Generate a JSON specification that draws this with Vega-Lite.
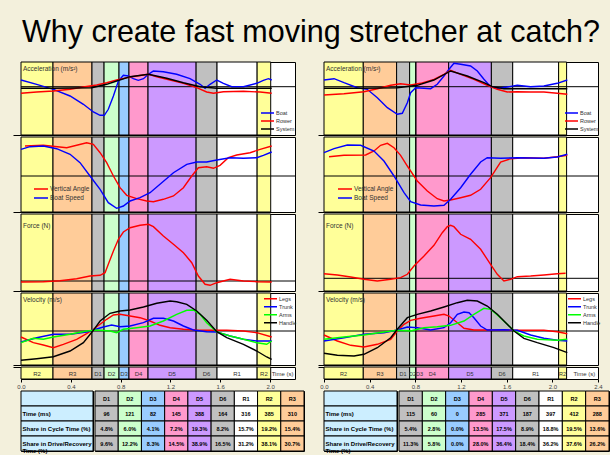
{
"$schema":"https://vega.github.io/schema/vega-lite/v6.json",
"background":"#f3f0dc",
"padding":{"left":12,"top":17,"right":0,"bottom":0},
"title":{"text":"Why create fast moving stretcher at catch?","anchor":"start","fontSize":30.5,"fontWeight":"normal","font":"Liberation Sans","color":"#000","dx":10,"offset":12},
"config":{"font":"Liberation Sans","view":{"stroke":"#000","strokeWidth":1,"fill":"#ffffff"},"axis":{"labelFont":"Liberation Sans"},"legend":{"labelFont":"Liberation Sans"},"text":{"font":"Liberation Sans"}},
"datasets":{
"bands":[
{"p":"L","ph":"R2","t0":0,"t1":0.257},{"p":"L","ph":"R3","t0":0.257,"t1":0.57},{"p":"L","ph":"D1","t0":0.57,"t1":0.667},{"p":"L","ph":"D2","t0":0.667,"t1":0.787},{"p":"L","ph":"D3","t0":0.787,"t1":0.867},{"p":"L","ph":"D4","t0":0.867,"t1":1.02},{"p":"L","ph":"D5","t0":1.02,"t1":1.406},{"p":"L","ph":"D6","t0":1.406,"t1":1.574},{"p":"L","ph":"R1","t0":1.574,"t1":1.896},{"p":"L","ph":"R2","t0":1.896,"t1":2.005},
{"p":"R","ph":"R2","t0":0,"t1":0.344},{"p":"R","ph":"R3","t0":0.344,"t1":0.636},{"p":"R","ph":"D1","t0":0.636,"t1":0.75},{"p":"R","ph":"D2","t0":0.75,"t1":0.806},{"p":"R","ph":"D3","t0":0.806,"t1":0.806},{"p":"R","ph":"D4","t0":0.806,"t1":1.092},{"p":"R","ph":"D5","t0":1.092,"t1":1.466},{"p":"R","ph":"D6","t0":1.466,"t1":1.653},{"p":"R","ph":"R1","t0":1.653,"t1":2.055},{"p":"R","ph":"R2","t0":2.055,"t1":2.125}
],
"grid":[{"p":"L","c":"acc","v":48.3},{"p":"L","c":"ang","v":36},{"p":"L","c":"frc","v":10},{"p":"L","c":"vel","v":34},{"p":"R","c":"acc","v":48.3},{"p":"R","c":"ang","v":36},{"p":"R","c":"frc","v":12.7},{"p":"R","c":"vel","v":34}],
"tlab":[{"r":"h","txt":""},{"r":"time","txt":"Time (ms)"},{"r":"cyc","txt":"Share in Cycle Time (%)"},{"r":"dr","txt":"Share in Drive/Recovery\nTime (%)"}],
"tbl":[
{"p":"L","r":"h","col":"D1","txt":"D1"},{"p":"L","r":"h","col":"D2","txt":"D2"},{"p":"L","r":"h","col":"D3","txt":"D3"},{"p":"L","r":"h","col":"D4","txt":"D4"},{"p":"L","r":"h","col":"D5","txt":"D5"},{"p":"L","r":"h","col":"D6","txt":"D6"},{"p":"L","r":"h","col":"R1","txt":"R1"},{"p":"L","r":"h","col":"R2","txt":"R2"},{"p":"L","r":"h","col":"R3","txt":"R3"},
{"p":"L","r":"time","col":"D1","txt":"96"},{"p":"L","r":"time","col":"D2","txt":"121"},{"p":"L","r":"time","col":"D3","txt":"82"},{"p":"L","r":"time","col":"D4","txt":"145"},{"p":"L","r":"time","col":"D5","txt":"388"},{"p":"L","r":"time","col":"D6","txt":"164"},{"p":"L","r":"time","col":"R1","txt":"316"},{"p":"L","r":"time","col":"R2","txt":"385"},{"p":"L","r":"time","col":"R3","txt":"310"},
{"p":"L","r":"cyc","col":"D1","txt":"4.8%"},{"p":"L","r":"cyc","col":"D2","txt":"6.0%"},{"p":"L","r":"cyc","col":"D3","txt":"4.1%"},{"p":"L","r":"cyc","col":"D4","txt":"7.2%"},{"p":"L","r":"cyc","col":"D5","txt":"19.3%"},{"p":"L","r":"cyc","col":"D6","txt":"8.2%"},{"p":"L","r":"cyc","col":"R1","txt":"15.7%"},{"p":"L","r":"cyc","col":"R2","txt":"19.2%"},{"p":"L","r":"cyc","col":"R3","txt":"15.4%"},
{"p":"L","r":"dr","col":"D1","txt":"9.6%"},{"p":"L","r":"dr","col":"D2","txt":"12.2%"},{"p":"L","r":"dr","col":"D3","txt":"8.3%"},{"p":"L","r":"dr","col":"D4","txt":"14.5%"},{"p":"L","r":"dr","col":"D5","txt":"38.9%"},{"p":"L","r":"dr","col":"D6","txt":"16.5%"},{"p":"L","r":"dr","col":"R1","txt":"31.2%"},{"p":"L","r":"dr","col":"R2","txt":"38.1%"},{"p":"L","r":"dr","col":"R3","txt":"30.7%"},
{"p":"R","r":"h","col":"D1","txt":"D1"},{"p":"R","r":"h","col":"D2","txt":"D2"},{"p":"R","r":"h","col":"D3","txt":"D3"},{"p":"R","r":"h","col":"D4","txt":"D4"},{"p":"R","r":"h","col":"D5","txt":"D5"},{"p":"R","r":"h","col":"D6","txt":"D6"},{"p":"R","r":"h","col":"R1","txt":"R1"},{"p":"R","r":"h","col":"R2","txt":"R2"},{"p":"R","r":"h","col":"R3","txt":"R3"},
{"p":"R","r":"time","col":"D1","txt":"115"},{"p":"R","r":"time","col":"D2","txt":"60"},{"p":"R","r":"time","col":"D3","txt":"0"},{"p":"R","r":"time","col":"D4","txt":"285"},{"p":"R","r":"time","col":"D5","txt":"371"},{"p":"R","r":"time","col":"D6","txt":"187"},{"p":"R","r":"time","col":"R1","txt":"397"},{"p":"R","r":"time","col":"R2","txt":"412"},{"p":"R","r":"time","col":"R3","txt":"288"},
{"p":"R","r":"cyc","col":"D1","txt":"5.4%"},{"p":"R","r":"cyc","col":"D2","txt":"2.8%"},{"p":"R","r":"cyc","col":"D3","txt":"0.0%"},{"p":"R","r":"cyc","col":"D4","txt":"13.5%"},{"p":"R","r":"cyc","col":"D5","txt":"17.5%"},{"p":"R","r":"cyc","col":"D6","txt":"8.9%"},{"p":"R","r":"cyc","col":"R1","txt":"18.8%"},{"p":"R","r":"cyc","col":"R2","txt":"19.5%"},{"p":"R","r":"cyc","col":"R3","txt":"13.6%"},
{"p":"R","r":"dr","col":"D1","txt":"11.3%"},{"p":"R","r":"dr","col":"D2","txt":"5.8%"},{"p":"R","r":"dr","col":"D3","txt":"0.0%"},{"p":"R","r":"dr","col":"D4","txt":"28.0%"},{"p":"R","r":"dr","col":"D5","txt":"36.4%"},{"p":"R","r":"dr","col":"D6","txt":"18.4%"},{"p":"R","r":"dr","col":"R1","txt":"36.2%"},{"p":"R","r":"dr","col":"R2","txt":"37.6%"},{"p":"R","r":"dr","col":"R3","txt":"26.2%"}
],
"curves":[
{"p":"L","c":"acc","s":"Boat","t":0,"v":55},{"p":"L","c":"acc","s":"Boat","t":0.126,"v":50.7},{"p":"L","c":"acc","s":"Boat","t":0.26,"v":45.7},{"p":"L","c":"acc","s":"Boat","t":0.394,"v":39},{"p":"L","c":"acc","s":"Boat","t":0.501,"v":30.7},{"p":"L","c":"acc","s":"Boat","t":0.581,"v":23},{"p":"L","c":"acc","s":"Boat","t":0.635,"v":19.7},{"p":"L","c":"acc","s":"Boat","t":0.669,"v":19.7},{"p":"L","c":"acc","s":"Boat","t":0.701,"v":25.7},{"p":"L","c":"acc","s":"Boat","t":0.742,"v":39},{"p":"L","c":"acc","s":"Boat","t":0.782,"v":54},{"p":"L","c":"acc","s":"Boat","t":0.822,"v":59.7},{"p":"L","c":"acc","s":"Boat","t":0.862,"v":59},{"p":"L","c":"acc","s":"Boat","t":0.902,"v":56.3},{"p":"L","c":"acc","s":"Boat","t":0.942,"v":54.7},{"p":"L","c":"acc","s":"Boat","t":0.983,"v":56.3},{"p":"L","c":"acc","s":"Boat","t":1.023,"v":60.7},{"p":"L","c":"acc","s":"Boat","t":1.063,"v":64},{"p":"L","c":"acc","s":"Boat","t":1.143,"v":63.3},{"p":"L","c":"acc","s":"Boat","t":1.25,"v":60.7},{"p":"L","c":"acc","s":"Boat","t":1.357,"v":56.3},{"p":"L","c":"acc","s":"Boat","t":1.438,"v":50.7},{"p":"L","c":"acc","s":"Boat","t":1.478,"v":46.7},{"p":"L","c":"acc","s":"Boat","t":1.518,"v":50.7},{"p":"L","c":"acc","s":"Boat","t":1.572,"v":55},{"p":"L","c":"acc","s":"Boat","t":1.625,"v":51.7},{"p":"L","c":"acc","s":"Boat","t":1.692,"v":48.3},{"p":"L","c":"acc","s":"Boat","t":1.786,"v":48.3},{"p":"L","c":"acc","s":"Boat","t":1.893,"v":51.7},{"p":"L","c":"acc","s":"Boat","t":1.946,"v":54.7},{"p":"L","c":"acc","s":"Boat","t":1.987,"v":56.3},{"p":"L","c":"acc","s":"Boat","t":2.013,"v":55},
{"p":"L","c":"acc","s":"Rower","t":0,"v":41.7},{"p":"L","c":"acc","s":"Rower","t":0.126,"v":43},{"p":"L","c":"acc","s":"Rower","t":0.26,"v":44},{"p":"L","c":"acc","s":"Rower","t":0.394,"v":45.7},{"p":"L","c":"acc","s":"Rower","t":0.501,"v":48},{"p":"L","c":"acc","s":"Rower","t":0.608,"v":50},{"p":"L","c":"acc","s":"Rower","t":0.688,"v":52.3},{"p":"L","c":"acc","s":"Rower","t":0.768,"v":55},{"p":"L","c":"acc","s":"Rower","t":0.876,"v":58},{"p":"L","c":"acc","s":"Rower","t":0.983,"v":60},{"p":"L","c":"acc","s":"Rower","t":1.023,"v":60.7},{"p":"L","c":"acc","s":"Rower","t":1.09,"v":58.3},{"p":"L","c":"acc","s":"Rower","t":1.197,"v":55},{"p":"L","c":"acc","s":"Rower","t":1.304,"v":51.7},{"p":"L","c":"acc","s":"Rower","t":1.411,"v":47.3},{"p":"L","c":"acc","s":"Rower","t":1.491,"v":43},{"p":"L","c":"acc","s":"Rower","t":1.545,"v":41.7},{"p":"L","c":"acc","s":"Rower","t":1.625,"v":43.3},{"p":"L","c":"acc","s":"Rower","t":1.786,"v":43.7},{"p":"L","c":"acc","s":"Rower","t":1.92,"v":43},{"p":"L","c":"acc","s":"Rower","t":2.013,"v":41.7},
{"p":"L","c":"acc","s":"System","t":0,"v":46.7},{"p":"L","c":"acc","s":"System","t":0.26,"v":46.7},{"p":"L","c":"acc","s":"System","t":0.568,"v":47.3},{"p":"L","c":"acc","s":"System","t":0.688,"v":50.7},{"p":"L","c":"acc","s":"System","t":0.768,"v":54},{"p":"L","c":"acc","s":"System","t":0.876,"v":58.3},{"p":"L","c":"acc","s":"System","t":1.023,"v":60.7},{"p":"L","c":"acc","s":"System","t":1.17,"v":56.7},{"p":"L","c":"acc","s":"System","t":1.304,"v":52.3},{"p":"L","c":"acc","s":"System","t":1.438,"v":48.3},{"p":"L","c":"acc","s":"System","t":1.572,"v":46.7},{"p":"L","c":"acc","s":"System","t":2.013,"v":46.7},
{"p":"L","c":"ang","s":"Vertical Angle","t":0.032,"v":66},{"p":"L","c":"ang","s":"Vertical Angle","t":0.179,"v":66.7},{"p":"L","c":"ang","s":"Vertical Angle","t":0.367,"v":64.3},{"p":"L","c":"ang","s":"Vertical Angle","t":0.447,"v":66.7},{"p":"L","c":"ang","s":"Vertical Angle","t":0.527,"v":69.3},{"p":"L","c":"ang","s":"Vertical Angle","t":0.581,"v":67.7},{"p":"L","c":"ang","s":"Vertical Angle","t":0.635,"v":59.3},{"p":"L","c":"ang","s":"Vertical Angle","t":0.688,"v":49.3},{"p":"L","c":"ang","s":"Vertical Angle","t":0.742,"v":36},{"p":"L","c":"ang","s":"Vertical Angle","t":0.795,"v":24.3},{"p":"L","c":"ang","s":"Vertical Angle","t":0.849,"v":16.7},{"p":"L","c":"ang","s":"Vertical Angle","t":0.929,"v":13.3},{"p":"L","c":"ang","s":"Vertical Angle","t":1.009,"v":11},{"p":"L","c":"ang","s":"Vertical Angle","t":1.063,"v":10.3},{"p":"L","c":"ang","s":"Vertical Angle","t":1.143,"v":12.7},{"p":"L","c":"ang","s":"Vertical Angle","t":1.224,"v":16},{"p":"L","c":"ang","s":"Vertical Angle","t":1.304,"v":24.3},{"p":"L","c":"ang","s":"Vertical Angle","t":1.371,"v":36},{"p":"L","c":"ang","s":"Vertical Angle","t":1.424,"v":44.3},{"p":"L","c":"ang","s":"Vertical Angle","t":1.491,"v":45.3},{"p":"L","c":"ang","s":"Vertical Angle","t":1.545,"v":43.7},{"p":"L","c":"ang","s":"Vertical Angle","t":1.598,"v":46.7},{"p":"L","c":"ang","s":"Vertical Angle","t":1.665,"v":54.3},{"p":"L","c":"ang","s":"Vertical Angle","t":1.732,"v":57},{"p":"L","c":"ang","s":"Vertical Angle","t":1.839,"v":59.3},{"p":"L","c":"ang","s":"Vertical Angle","t":1.92,"v":62.7},{"p":"L","c":"ang","s":"Vertical Angle","t":2.013,"v":66},
{"p":"L","c":"ang","s":"Boat Speed","t":0,"v":62.7},{"p":"L","c":"ang","s":"Boat Speed","t":0.072,"v":65.3},{"p":"L","c":"ang","s":"Boat Speed","t":0.179,"v":66},{"p":"L","c":"ang","s":"Boat Speed","t":0.286,"v":63.3},{"p":"L","c":"ang","s":"Boat Speed","t":0.394,"v":57.7},{"p":"L","c":"ang","s":"Boat Speed","t":0.474,"v":49.3},{"p":"L","c":"ang","s":"Boat Speed","t":0.554,"v":36},{"p":"L","c":"ang","s":"Boat Speed","t":0.635,"v":22.7},{"p":"L","c":"ang","s":"Boat Speed","t":0.701,"v":9.3},{"p":"L","c":"ang","s":"Boat Speed","t":0.768,"v":3.7},{"p":"L","c":"ang","s":"Boat Speed","t":0.822,"v":6},{"p":"L","c":"ang","s":"Boat Speed","t":0.876,"v":11},{"p":"L","c":"ang","s":"Boat Speed","t":0.956,"v":14.3},{"p":"L","c":"ang","s":"Boat Speed","t":1.036,"v":19.3},{"p":"L","c":"ang","s":"Boat Speed","t":1.116,"v":27.7},{"p":"L","c":"ang","s":"Boat Speed","t":1.224,"v":39.3},{"p":"L","c":"ang","s":"Boat Speed","t":1.331,"v":47.7},{"p":"L","c":"ang","s":"Boat Speed","t":1.411,"v":50},{"p":"L","c":"ang","s":"Boat Speed","t":1.491,"v":50},{"p":"L","c":"ang","s":"Boat Speed","t":1.572,"v":52},{"p":"L","c":"ang","s":"Boat Speed","t":1.679,"v":54.3},{"p":"L","c":"ang","s":"Boat Speed","t":1.786,"v":53.7},{"p":"L","c":"ang","s":"Boat Speed","t":1.893,"v":54.3},{"p":"L","c":"ang","s":"Boat Speed","t":1.946,"v":56.7},{"p":"L","c":"ang","s":"Boat Speed","t":2.013,"v":60},
{"p":"L","c":"frc","s":"Force","t":0,"v":9},{"p":"L","c":"frc","s":"Force","t":0.179,"v":9.3},{"p":"L","c":"frc","s":"Force","t":0.313,"v":10.3},{"p":"L","c":"frc","s":"Force","t":0.447,"v":12.3},{"p":"L","c":"frc","s":"Force","t":0.554,"v":15},{"p":"L","c":"frc","s":"Force","t":0.635,"v":15.7},{"p":"L","c":"frc","s":"Force","t":0.675,"v":18.3},{"p":"L","c":"frc","s":"Force","t":0.701,"v":26.7},{"p":"L","c":"frc","s":"Force","t":0.742,"v":40},{"p":"L","c":"frc","s":"Force","t":0.782,"v":51.7},{"p":"L","c":"frc","s":"Force","t":0.822,"v":59},{"p":"L","c":"frc","s":"Force","t":0.876,"v":63.3},{"p":"L","c":"frc","s":"Force","t":0.956,"v":65.7},{"p":"L","c":"frc","s":"Force","t":1.023,"v":66.7},{"p":"L","c":"frc","s":"Force","t":1.063,"v":64.3},{"p":"L","c":"frc","s":"Force","t":1.143,"v":55},{"p":"L","c":"frc","s":"Force","t":1.224,"v":46.7},{"p":"L","c":"frc","s":"Force","t":1.304,"v":38.3},{"p":"L","c":"frc","s":"Force","t":1.371,"v":28.3},{"p":"L","c":"frc","s":"Force","t":1.424,"v":15},{"p":"L","c":"frc","s":"Force","t":1.478,"v":6.7},{"p":"L","c":"frc","s":"Force","t":1.518,"v":5.7},{"p":"L","c":"frc","s":"Force","t":1.572,"v":8.3},{"p":"L","c":"frc","s":"Force","t":1.625,"v":10},{"p":"L","c":"frc","s":"Force","t":1.679,"v":11.7},{"p":"L","c":"frc","s":"Force","t":1.786,"v":10},{"p":"L","c":"frc","s":"Force","t":1.893,"v":9.3},{"p":"L","c":"frc","s":"Force","t":2.013,"v":9},
{"p":"L","c":"vel","s":"Legs","t":0,"v":28},{"p":"L","c":"vel","s":"Legs","t":0.099,"v":22.3},{"p":"L","c":"vel","s":"Legs","t":0.179,"v":20},{"p":"L","c":"vel","s":"Legs","t":0.26,"v":17.3},{"p":"L","c":"vel","s":"Legs","t":0.34,"v":20.7},{"p":"L","c":"vel","s":"Legs","t":0.447,"v":25.7},{"p":"L","c":"vel","s":"Legs","t":0.527,"v":31.3},{"p":"L","c":"vel","s":"Legs","t":0.581,"v":35.7},{"p":"L","c":"vel","s":"Legs","t":0.635,"v":40.7},{"p":"L","c":"vel","s":"Legs","t":0.688,"v":45.7},{"p":"L","c":"vel","s":"Legs","t":0.742,"v":50},{"p":"L","c":"vel","s":"Legs","t":0.795,"v":50.7},{"p":"L","c":"vel","s":"Legs","t":0.876,"v":49},{"p":"L","c":"vel","s":"Legs","t":0.956,"v":47.3},{"p":"L","c":"vel","s":"Legs","t":1.036,"v":44},{"p":"L","c":"vel","s":"Legs","t":1.116,"v":39.7},{"p":"L","c":"vel","s":"Legs","t":1.197,"v":37.3},{"p":"L","c":"vel","s":"Legs","t":1.304,"v":35.7},{"p":"L","c":"vel","s":"Legs","t":1.411,"v":35},{"p":"L","c":"vel","s":"Legs","t":1.518,"v":34.7},{"p":"L","c":"vel","s":"Legs","t":1.652,"v":34.7},{"p":"L","c":"vel","s":"Legs","t":1.786,"v":34},{"p":"L","c":"vel","s":"Legs","t":1.893,"v":32.3},{"p":"L","c":"vel","s":"Legs","t":2.013,"v":28},
{"p":"L","c":"vel","s":"Trunk","t":0,"v":23},{"p":"L","c":"vel","s":"Trunk","t":0.126,"v":27.3},{"p":"L","c":"vel","s":"Trunk","t":0.26,"v":30.7},{"p":"L","c":"vel","s":"Trunk","t":0.394,"v":30.7},{"p":"L","c":"vel","s":"Trunk","t":0.527,"v":33},{"p":"L","c":"vel","s":"Trunk","t":0.581,"v":35},{"p":"L","c":"vel","s":"Trunk","t":0.661,"v":38},{"p":"L","c":"vel","s":"Trunk","t":0.728,"v":40},{"p":"L","c":"vel","s":"Trunk","t":0.795,"v":38.3},{"p":"L","c":"vel","s":"Trunk","t":0.876,"v":39},{"p":"L","c":"vel","s":"Trunk","t":0.983,"v":42.3},{"p":"L","c":"vel","s":"Trunk","t":1.063,"v":46.7},{"p":"L","c":"vel","s":"Trunk","t":1.143,"v":46.7},{"p":"L","c":"vel","s":"Trunk","t":1.224,"v":44},{"p":"L","c":"vel","s":"Trunk","t":1.304,"v":39},{"p":"L","c":"vel","s":"Trunk","t":1.384,"v":35},{"p":"L","c":"vel","s":"Trunk","t":1.491,"v":33.3},{"p":"L","c":"vel","s":"Trunk","t":1.572,"v":33},{"p":"L","c":"vel","s":"Trunk","t":1.679,"v":29},{"p":"L","c":"vel","s":"Trunk","t":1.786,"v":25.7},{"p":"L","c":"vel","s":"Trunk","t":1.893,"v":24},{"p":"L","c":"vel","s":"Trunk","t":2.013,"v":24},
{"p":"L","c":"vel","s":"Arms","t":0,"v":22.3},{"p":"L","c":"vel","s":"Arms","t":0.099,"v":26.7},{"p":"L","c":"vel","s":"Arms","t":0.179,"v":25.7},{"p":"L","c":"vel","s":"Arms","t":0.26,"v":28},{"p":"L","c":"vel","s":"Arms","t":0.394,"v":30.7},{"p":"L","c":"vel","s":"Arms","t":0.527,"v":34},{"p":"L","c":"vel","s":"Arms","t":0.608,"v":35},{"p":"L","c":"vel","s":"Arms","t":0.715,"v":34},{"p":"L","c":"vel","s":"Arms","t":0.768,"v":32.3},{"p":"L","c":"vel","s":"Arms","t":0.822,"v":35.7},{"p":"L","c":"vel","s":"Arms","t":0.929,"v":37.3},{"p":"L","c":"vel","s":"Arms","t":1.036,"v":39},{"p":"L","c":"vel","s":"Arms","t":1.143,"v":44},{"p":"L","c":"vel","s":"Arms","t":1.25,"v":50.7},{"p":"L","c":"vel","s":"Arms","t":1.331,"v":54.7},{"p":"L","c":"vel","s":"Arms","t":1.384,"v":55},{"p":"L","c":"vel","s":"Arms","t":1.438,"v":50.7},{"p":"L","c":"vel","s":"Arms","t":1.491,"v":42.3},{"p":"L","c":"vel","s":"Arms","t":1.572,"v":33},{"p":"L","c":"vel","s":"Arms","t":1.679,"v":29},{"p":"L","c":"vel","s":"Arms","t":1.786,"v":25.7},{"p":"L","c":"vel","s":"Arms","t":1.893,"v":22.3},{"p":"L","c":"vel","s":"Arms","t":1.973,"v":20.7},{"p":"L","c":"vel","s":"Arms","t":2.013,"v":24},
{"p":"L","c":"vel","s":"Handle","t":0,"v":4.7},{"p":"L","c":"vel","s":"Handle","t":0.126,"v":6.3},{"p":"L","c":"vel","s":"Handle","t":0.26,"v":8.3},{"p":"L","c":"vel","s":"Handle","t":0.394,"v":14},{"p":"L","c":"vel","s":"Handle","t":0.501,"v":22.3},{"p":"L","c":"vel","s":"Handle","t":0.581,"v":34.7},{"p":"L","c":"vel","s":"Handle","t":0.635,"v":44},{"p":"L","c":"vel","s":"Handle","t":0.715,"v":51.7},{"p":"L","c":"vel","s":"Handle","t":0.795,"v":54},{"p":"L","c":"vel","s":"Handle","t":0.876,"v":55},{"p":"L","c":"vel","s":"Handle","t":0.983,"v":58},{"p":"L","c":"vel","s":"Handle","t":1.09,"v":61.7},{"p":"L","c":"vel","s":"Handle","t":1.197,"v":64},{"p":"L","c":"vel","s":"Handle","t":1.25,"v":63.3},{"p":"L","c":"vel","s":"Handle","t":1.331,"v":60.7},{"p":"L","c":"vel","s":"Handle","t":1.411,"v":54},{"p":"L","c":"vel","s":"Handle","t":1.491,"v":44.7},{"p":"L","c":"vel","s":"Handle","t":1.572,"v":33.3},{"p":"L","c":"vel","s":"Handle","t":1.652,"v":27.3},{"p":"L","c":"vel","s":"Handle","t":1.786,"v":20.7},{"p":"L","c":"vel","s":"Handle","t":1.893,"v":14},{"p":"L","c":"vel","s":"Handle","t":1.973,"v":8},{"p":"L","c":"vel","s":"Handle","t":2.013,"v":5.7},
{"p":"R","c":"acc","s":"Boat","t":0,"v":55},{"p":"R","c":"acc","s":"Boat","t":0.088,"v":56.3},{"p":"R","c":"acc","s":"Boat","t":0.175,"v":52.3},{"p":"R","c":"acc","s":"Boat","t":0.292,"v":47.3},{"p":"R","c":"acc","s":"Boat","t":0.379,"v":45.7},{"p":"R","c":"acc","s":"Boat","t":0.467,"v":37.3},{"p":"R","c":"acc","s":"Boat","t":0.555,"v":27.3},{"p":"R","c":"acc","s":"Boat","t":0.642,"v":20.7},{"p":"R","c":"acc","s":"Boat","t":0.686,"v":21.7},{"p":"R","c":"acc","s":"Boat","t":0.73,"v":32.3},{"p":"R","c":"acc","s":"Boat","t":0.759,"v":42.3},{"p":"R","c":"acc","s":"Boat","t":0.803,"v":47.3},{"p":"R","c":"acc","s":"Boat","t":0.876,"v":46.7},{"p":"R","c":"acc","s":"Boat","t":0.934,"v":46.3},{"p":"R","c":"acc","s":"Boat","t":0.992,"v":50.7},{"p":"R","c":"acc","s":"Boat","t":1.051,"v":59},{"p":"R","c":"acc","s":"Boat","t":1.095,"v":65.7},{"p":"R","c":"acc","s":"Boat","t":1.138,"v":71.7},{"p":"R","c":"acc","s":"Boat","t":1.197,"v":70.7},{"p":"R","c":"acc","s":"Boat","t":1.284,"v":69},{"p":"R","c":"acc","s":"Boat","t":1.343,"v":64},{"p":"R","c":"acc","s":"Boat","t":1.401,"v":55.7},{"p":"R","c":"acc","s":"Boat","t":1.459,"v":48.3},{"p":"R","c":"acc","s":"Boat","t":1.518,"v":46.7},{"p":"R","c":"acc","s":"Boat","t":1.605,"v":48},{"p":"R","c":"acc","s":"Boat","t":1.693,"v":49.7},{"p":"R","c":"acc","s":"Boat","t":1.81,"v":48.3},{"p":"R","c":"acc","s":"Boat","t":1.926,"v":49},{"p":"R","c":"acc","s":"Boat","t":2.043,"v":51.7},{"p":"R","c":"acc","s":"Boat","t":2.131,"v":55},
{"p":"R","c":"acc","s":"Rower","t":0,"v":40},{"p":"R","c":"acc","s":"Rower","t":0.175,"v":41.3},{"p":"R","c":"acc","s":"Rower","t":0.35,"v":43.3},{"p":"R","c":"acc","s":"Rower","t":0.467,"v":46.3},{"p":"R","c":"acc","s":"Rower","t":0.584,"v":49.7},{"p":"R","c":"acc","s":"Rower","t":0.671,"v":51.3},{"p":"R","c":"acc","s":"Rower","t":0.759,"v":50},{"p":"R","c":"acc","s":"Rower","t":0.846,"v":51.7},{"p":"R","c":"acc","s":"Rower","t":0.963,"v":55.7},{"p":"R","c":"acc","s":"Rower","t":1.051,"v":60.7},{"p":"R","c":"acc","s":"Rower","t":1.109,"v":64.7},{"p":"R","c":"acc","s":"Rower","t":1.197,"v":60.7},{"p":"R","c":"acc","s":"Rower","t":1.313,"v":55.7},{"p":"R","c":"acc","s":"Rower","t":1.43,"v":49.7},{"p":"R","c":"acc","s":"Rower","t":1.518,"v":45.7},{"p":"R","c":"acc","s":"Rower","t":1.605,"v":43},{"p":"R","c":"acc","s":"Rower","t":1.693,"v":43.3},{"p":"R","c":"acc","s":"Rower","t":1.81,"v":43},{"p":"R","c":"acc","s":"Rower","t":1.926,"v":43},{"p":"R","c":"acc","s":"Rower","t":2.043,"v":41.7},{"p":"R","c":"acc","s":"Rower","t":2.131,"v":40.7},
{"p":"R","c":"acc","s":"System","t":0,"v":46.7},{"p":"R","c":"acc","s":"System","t":0.321,"v":46.7},{"p":"R","c":"acc","s":"System","t":0.642,"v":47.3},{"p":"R","c":"acc","s":"System","t":0.817,"v":49.7},{"p":"R","c":"acc","s":"System","t":0.963,"v":55},{"p":"R","c":"acc","s":"System","t":1.109,"v":64},{"p":"R","c":"acc","s":"System","t":1.255,"v":59},{"p":"R","c":"acc","s":"System","t":1.401,"v":52.3},{"p":"R","c":"acc","s":"System","t":1.474,"v":48.3},{"p":"R","c":"acc","s":"System","t":1.576,"v":46.3},{"p":"R","c":"acc","s":"System","t":1.926,"v":46.3},{"p":"R","c":"acc","s":"System","t":2.131,"v":46.3},
{"p":"R","c":"ang","s":"Vertical Angle","t":0.044,"v":55.3},{"p":"R","c":"ang","s":"Vertical Angle","t":0.175,"v":56.7},{"p":"R","c":"ang","s":"Vertical Angle","t":0.365,"v":57},{"p":"R","c":"ang","s":"Vertical Angle","t":0.438,"v":61},{"p":"R","c":"ang","s":"Vertical Angle","t":0.496,"v":66.7},{"p":"R","c":"ang","s":"Vertical Angle","t":0.555,"v":68.7},{"p":"R","c":"ang","s":"Vertical Angle","t":0.613,"v":64.3},{"p":"R","c":"ang","s":"Vertical Angle","t":0.671,"v":56.7},{"p":"R","c":"ang","s":"Vertical Angle","t":0.73,"v":46},{"p":"R","c":"ang","s":"Vertical Angle","t":0.817,"v":31},{"p":"R","c":"ang","s":"Vertical Angle","t":0.905,"v":21},{"p":"R","c":"ang","s":"Vertical Angle","t":0.992,"v":13.3},{"p":"R","c":"ang","s":"Vertical Angle","t":1.051,"v":11},{"p":"R","c":"ang","s":"Vertical Angle","t":1.109,"v":12},{"p":"R","c":"ang","s":"Vertical Angle","t":1.197,"v":14.3},{"p":"R","c":"ang","s":"Vertical Angle","t":1.284,"v":16.7},{"p":"R","c":"ang","s":"Vertical Angle","t":1.372,"v":22.7},{"p":"R","c":"ang","s":"Vertical Angle","t":1.459,"v":34.3},{"p":"R","c":"ang","s":"Vertical Angle","t":1.547,"v":50},{"p":"R","c":"ang","s":"Vertical Angle","t":1.635,"v":53.3},{"p":"R","c":"ang","s":"Vertical Angle","t":1.751,"v":54.3},{"p":"R","c":"ang","s":"Vertical Angle","t":1.926,"v":53.7},{"p":"R","c":"ang","s":"Vertical Angle","t":2.043,"v":55.3},{"p":"R","c":"ang","s":"Vertical Angle","t":2.131,"v":56.7},
{"p":"R","c":"ang","s":"Boat Speed","t":0,"v":59.3},{"p":"R","c":"ang","s":"Boat Speed","t":0.088,"v":63.3},{"p":"R","c":"ang","s":"Boat Speed","t":0.204,"v":67},{"p":"R","c":"ang","s":"Boat Speed","t":0.321,"v":66.7},{"p":"R","c":"ang","s":"Boat Speed","t":0.438,"v":61},{"p":"R","c":"ang","s":"Boat Speed","t":0.525,"v":51},{"p":"R","c":"ang","s":"Boat Speed","t":0.613,"v":36},{"p":"R","c":"ang","s":"Boat Speed","t":0.701,"v":19.3},{"p":"R","c":"ang","s":"Boat Speed","t":0.759,"v":10.3},{"p":"R","c":"ang","s":"Boat Speed","t":0.846,"v":7},{"p":"R","c":"ang","s":"Boat Speed","t":0.963,"v":6},{"p":"R","c":"ang","s":"Boat Speed","t":1.051,"v":6.7},{"p":"R","c":"ang","s":"Boat Speed","t":1.109,"v":12.7},{"p":"R","c":"ang","s":"Boat Speed","t":1.197,"v":24.3},{"p":"R","c":"ang","s":"Boat Speed","t":1.284,"v":37.7},{"p":"R","c":"ang","s":"Boat Speed","t":1.372,"v":50},{"p":"R","c":"ang","s":"Boat Speed","t":1.43,"v":54.3},{"p":"R","c":"ang","s":"Boat Speed","t":1.547,"v":53.7},{"p":"R","c":"ang","s":"Boat Speed","t":1.693,"v":54.3},{"p":"R","c":"ang","s":"Boat Speed","t":1.926,"v":53.7},{"p":"R","c":"ang","s":"Boat Speed","t":2.043,"v":55},{"p":"R","c":"ang","s":"Boat Speed","t":2.131,"v":57.7},
{"p":"R","c":"frc","s":"Force","t":0,"v":17.3},{"p":"R","c":"frc","s":"Force","t":0.117,"v":16},{"p":"R","c":"frc","s":"Force","t":0.234,"v":14},{"p":"R","c":"frc","s":"Force","t":0.35,"v":11.7},{"p":"R","c":"frc","s":"Force","t":0.467,"v":10},{"p":"R","c":"frc","s":"Force","t":0.584,"v":11.7},{"p":"R","c":"frc","s":"Force","t":0.671,"v":13.3},{"p":"R","c":"frc","s":"Force","t":0.73,"v":16.7},{"p":"R","c":"frc","s":"Force","t":0.788,"v":25},{"p":"R","c":"frc","s":"Force","t":0.876,"v":35},{"p":"R","c":"frc","s":"Force","t":0.963,"v":45.7},{"p":"R","c":"frc","s":"Force","t":1.036,"v":58.3},{"p":"R","c":"frc","s":"Force","t":1.08,"v":64.3},{"p":"R","c":"frc","s":"Force","t":1.109,"v":65.7},{"p":"R","c":"frc","s":"Force","t":1.138,"v":64.3},{"p":"R","c":"frc","s":"Force","t":1.197,"v":56.7},{"p":"R","c":"frc","s":"Force","t":1.284,"v":51.7},{"p":"R","c":"frc","s":"Force","t":1.372,"v":41.7},{"p":"R","c":"frc","s":"Force","t":1.459,"v":26.7},{"p":"R","c":"frc","s":"Force","t":1.518,"v":16.7},{"p":"R","c":"frc","s":"Force","t":1.576,"v":10},{"p":"R","c":"frc","s":"Force","t":1.635,"v":11.7},{"p":"R","c":"frc","s":"Force","t":1.693,"v":14.3},{"p":"R","c":"frc","s":"Force","t":1.81,"v":15},{"p":"R","c":"frc","s":"Force","t":1.926,"v":16},{"p":"R","c":"frc","s":"Force","t":2.043,"v":17.3},{"p":"R","c":"frc","s":"Force","t":2.116,"v":17.7},
{"p":"R","c":"vel","s":"Legs","t":0,"v":30},{"p":"R","c":"vel","s":"Legs","t":0.117,"v":24},{"p":"R","c":"vel","s":"Legs","t":0.234,"v":19.7},{"p":"R","c":"vel","s":"Legs","t":0.35,"v":18},{"p":"R","c":"vel","s":"Legs","t":0.467,"v":20.7},{"p":"R","c":"vel","s":"Legs","t":0.584,"v":25.7},{"p":"R","c":"vel","s":"Legs","t":0.642,"v":34},{"p":"R","c":"vel","s":"Legs","t":0.701,"v":40.7},{"p":"R","c":"vel","s":"Legs","t":0.759,"v":44.7},{"p":"R","c":"vel","s":"Legs","t":0.846,"v":46.7},{"p":"R","c":"vel","s":"Legs","t":0.963,"v":49},{"p":"R","c":"vel","s":"Legs","t":1.051,"v":50.7},{"p":"R","c":"vel","s":"Legs","t":1.095,"v":49},{"p":"R","c":"vel","s":"Legs","t":1.168,"v":42.3},{"p":"R","c":"vel","s":"Legs","t":1.226,"v":36.7},{"p":"R","c":"vel","s":"Legs","t":1.313,"v":35},{"p":"R","c":"vel","s":"Legs","t":1.459,"v":35},{"p":"R","c":"vel","s":"Legs","t":1.576,"v":35},{"p":"R","c":"vel","s":"Legs","t":1.693,"v":34.7},{"p":"R","c":"vel","s":"Legs","t":1.926,"v":34.7},{"p":"R","c":"vel","s":"Legs","t":2.043,"v":33.3},{"p":"R","c":"vel","s":"Legs","t":2.131,"v":31.3},
{"p":"R","c":"vel","s":"Trunk","t":0,"v":24},{"p":"R","c":"vel","s":"Trunk","t":0.175,"v":27.3},{"p":"R","c":"vel","s":"Trunk","t":0.35,"v":30.7},{"p":"R","c":"vel","s":"Trunk","t":0.525,"v":32.3},{"p":"R","c":"vel","s":"Trunk","t":0.642,"v":35},{"p":"R","c":"vel","s":"Trunk","t":0.73,"v":38},{"p":"R","c":"vel","s":"Trunk","t":0.817,"v":37.3},{"p":"R","c":"vel","s":"Trunk","t":0.934,"v":35},{"p":"R","c":"vel","s":"Trunk","t":1.051,"v":37.3},{"p":"R","c":"vel","s":"Trunk","t":1.109,"v":42.3},{"p":"R","c":"vel","s":"Trunk","t":1.168,"v":50.7},{"p":"R","c":"vel","s":"Trunk","t":1.226,"v":53},{"p":"R","c":"vel","s":"Trunk","t":1.27,"v":52.3},{"p":"R","c":"vel","s":"Trunk","t":1.313,"v":47.3},{"p":"R","c":"vel","s":"Trunk","t":1.372,"v":39},{"p":"R","c":"vel","s":"Trunk","t":1.43,"v":35},{"p":"R","c":"vel","s":"Trunk","t":1.576,"v":35.3},{"p":"R","c":"vel","s":"Trunk","t":1.693,"v":34.7},{"p":"R","c":"vel","s":"Trunk","t":1.81,"v":30},{"p":"R","c":"vel","s":"Trunk","t":1.926,"v":26.7},{"p":"R","c":"vel","s":"Trunk","t":2.043,"v":24.7},{"p":"R","c":"vel","s":"Trunk","t":2.131,"v":24},
{"p":"R","c":"vel","s":"Arms","t":0,"v":25.7},{"p":"R","c":"vel","s":"Arms","t":0.175,"v":28},{"p":"R","c":"vel","s":"Arms","t":0.35,"v":30},{"p":"R","c":"vel","s":"Arms","t":0.525,"v":33},{"p":"R","c":"vel","s":"Arms","t":0.642,"v":34.7},{"p":"R","c":"vel","s":"Arms","t":0.759,"v":34},{"p":"R","c":"vel","s":"Arms","t":0.876,"v":37.3},{"p":"R","c":"vel","s":"Arms","t":0.992,"v":38.3},{"p":"R","c":"vel","s":"Arms","t":1.109,"v":39.7},{"p":"R","c":"vel","s":"Arms","t":1.226,"v":44},{"p":"R","c":"vel","s":"Arms","t":1.313,"v":50.7},{"p":"R","c":"vel","s":"Arms","t":1.401,"v":56.7},{"p":"R","c":"vel","s":"Arms","t":1.459,"v":55.7},{"p":"R","c":"vel","s":"Arms","t":1.518,"v":50},{"p":"R","c":"vel","s":"Arms","t":1.605,"v":40.7},{"p":"R","c":"vel","s":"Arms","t":1.664,"v":34},{"p":"R","c":"vel","s":"Arms","t":1.751,"v":29},{"p":"R","c":"vel","s":"Arms","t":1.868,"v":25.7},{"p":"R","c":"vel","s":"Arms","t":2.043,"v":24.7},{"p":"R","c":"vel","s":"Arms","t":2.131,"v":25.7},
{"p":"R","c":"vel","s":"Handle","t":0,"v":11.7},{"p":"R","c":"vel","s":"Handle","t":0.117,"v":9.7},{"p":"R","c":"vel","s":"Handle","t":0.263,"v":9},{"p":"R","c":"vel","s":"Handle","t":0.35,"v":10.7},{"p":"R","c":"vel","s":"Handle","t":0.467,"v":17.3},{"p":"R","c":"vel","s":"Handle","t":0.584,"v":27.3},{"p":"R","c":"vel","s":"Handle","t":0.642,"v":35.7},{"p":"R","c":"vel","s":"Handle","t":0.73,"v":47.3},{"p":"R","c":"vel","s":"Handle","t":0.817,"v":50.7},{"p":"R","c":"vel","s":"Handle","t":0.934,"v":54},{"p":"R","c":"vel","s":"Handle","t":1.051,"v":58},{"p":"R","c":"vel","s":"Handle","t":1.168,"v":62.3},{"p":"R","c":"vel","s":"Handle","t":1.255,"v":64.7},{"p":"R","c":"vel","s":"Handle","t":1.343,"v":64},{"p":"R","c":"vel","s":"Handle","t":1.43,"v":59},{"p":"R","c":"vel","s":"Handle","t":1.518,"v":50.7},{"p":"R","c":"vel","s":"Handle","t":1.605,"v":40.7},{"p":"R","c":"vel","s":"Handle","t":1.664,"v":34},{"p":"R","c":"vel","s":"Handle","t":1.751,"v":26.7},{"p":"R","c":"vel","s":"Handle","t":1.868,"v":22.3},{"p":"R","c":"vel","s":"Handle","t":2.014,"v":17.3},{"p":"R","c":"vel","s":"Handle","t":2.131,"v":12.3}
]
},
"hconcat":[
{"vconcat":[
 {"width":274,"height":73,"layer":[
  {"data":{"name":"bands"},"transform":[{"filter":"datum.p=='L'"}],"mark":{"type":"rect","stroke":"#000","strokeWidth":1},"encoding":{"x":{"field":"t0","type":"quantitative","scale":{"domain":[0,2.2],"nice":false,"zero":false},"axis":null},"x2":{"field":"t1"},"fill":{"field":"ph","type":"nominal","scale":{"domain":["R2","R3","D1","D2","D3","D4","D5","D6","R1"],"range":["#ffff99","#ffcc99","#c0c0c0","#ccffcc","#99ccff","#ff99cc","#cc99ff","#c0c0c0","#ffffff"]},"legend":null}}},
  {"data":{"name":"grid"},"transform":[{"filter":"datum.p=='L' && datum.c=='acc'"}],"mark":{"type":"rule","color":"#000","strokeWidth":1},"encoding":{"y":{"field":"v","type":"quantitative","title":null,"scale":{"domain":[0,73],"nice":false,"zero":false},"axis":{"title":null,"labels":false,"domain":false,"grid":false,"values":[0],"tickSize":8,"tickColor":"#000","tickWidth":1}}}},
  {"data":{"name":"curves"},"transform":[{"filter":"datum.p=='L' && datum.c=='acc'"}],"mark":{"type":"line","strokeWidth":1.4},"encoding":{"x":{"field":"t","type":"quantitative"},"y":{"field":"v","type":"quantitative","title":null},"color":{"field":"s","type":"nominal","scale":{"domain":["Boat","Rower","System"],"range":["#0000ff","#ff0000","#000000"]},"legend":{"orient":"none","legendX":239,"legendY":47,"title":null,"symbolType":"stroke","symbolSize":169,"symbolStrokeWidth":1.5,"labelFontSize":5.5,"labelColor":"#333","clipHeight":8,"rowPadding":0,"padding":0,"labelOffset":1}}}},
  {"data":{"values":[{"txt":"Acceleration (m/s²)"}]},"mark":{"type":"text","align":"left","baseline":"middle","fontSize":6.5,"color":"#333","dx":2,"dy":7},"encoding":{"x":{"datum":0,"type":"quantitative"},"y":{"datum":73,"type":"quantitative"},"text":{"field":"txt"}}}
 ]},
 {"width":274,"height":75,"layer":[
  {"data":{"name":"bands"},"transform":[{"filter":"datum.p=='L'"}],"mark":{"type":"rect","stroke":"#000","strokeWidth":1},"encoding":{"x":{"field":"t0","type":"quantitative","scale":{"domain":[0,2.2],"nice":false,"zero":false},"axis":null},"x2":{"field":"t1"},"fill":{"field":"ph","type":"nominal","scale":{"domain":["R2","R3","D1","D2","D3","D4","D5","D6","R1"],"range":["#ffff99","#ffcc99","#c0c0c0","#ccffcc","#99ccff","#ff99cc","#cc99ff","#c0c0c0","#ffffff"]},"legend":null}}},
  {"data":{"name":"grid"},"transform":[{"filter":"datum.p=='L' && datum.c=='ang'"}],"mark":{"type":"rule","color":"#000","strokeWidth":1},"encoding":{"y":{"field":"v","type":"quantitative","title":null,"scale":{"domain":[0,75],"nice":false,"zero":false},"axis":{"title":null,"labels":false,"domain":false,"grid":false,"values":[0],"tickSize":8,"tickColor":"#000","tickWidth":1}}}},
  {"data":{"name":"curves"},"transform":[{"filter":"datum.p=='L' && datum.c=='ang'"}],"mark":{"type":"line","strokeWidth":1.4},"encoding":{"x":{"field":"t","type":"quantitative"},"y":{"field":"v","type":"quantitative","title":null},"color":{"field":"s","type":"nominal","scale":{"domain":["Vertical Angle","Boat Speed"],"range":["#ff0000","#0000ff"]},"legend":{"orient":"none","legendX":12,"legendY":47.5,"title":null,"symbolType":"stroke","symbolSize":196,"symbolStrokeWidth":1.5,"labelFontSize":6.5,"labelColor":"#333","clipHeight":9,"rowPadding":0,"padding":0,"labelOffset":1}}}}
 ]},
 {"width":274,"height":77,"layer":[
  {"data":{"name":"bands"},"transform":[{"filter":"datum.p=='L'"}],"mark":{"type":"rect","stroke":"#000","strokeWidth":1},"encoding":{"x":{"field":"t0","type":"quantitative","scale":{"domain":[0,2.2],"nice":false,"zero":false},"axis":null},"x2":{"field":"t1"},"fill":{"field":"ph","type":"nominal","scale":{"domain":["R2","R3","D1","D2","D3","D4","D5","D6","R1"],"range":["#ffff99","#ffcc99","#c0c0c0","#ccffcc","#99ccff","#ff99cc","#cc99ff","#c0c0c0","#ffffff"]},"legend":null}}},
  {"data":{"name":"grid"},"transform":[{"filter":"datum.p=='L' && datum.c=='frc'"}],"mark":{"type":"rule","color":"#000","strokeWidth":1},"encoding":{"y":{"field":"v","type":"quantitative","title":null,"scale":{"domain":[0,77],"nice":false,"zero":false},"axis":{"title":null,"labels":false,"domain":false,"grid":false,"values":[0],"tickSize":8,"tickColor":"#000","tickWidth":1}}}},
  {"data":{"name":"curves"},"transform":[{"filter":"datum.p=='L' && datum.c=='frc'"}],"mark":{"type":"line","strokeWidth":1.4,"color":"#ff0000"},"encoding":{"x":{"field":"t","type":"quantitative"},"y":{"field":"v","type":"quantitative","title":null}}},
  {"data":{"values":[{"txt":"Force (N)"}]},"mark":{"type":"text","align":"left","baseline":"middle","fontSize":6.5,"color":"#333","dx":2,"dy":12},"encoding":{"x":{"datum":0,"type":"quantitative"},"y":{"datum":77,"type":"quantitative"},"text":{"field":"txt"}}}
 ]},
 {"width":274,"height":72,"layer":[
  {"data":{"name":"bands"},"transform":[{"filter":"datum.p=='L'"}],"mark":{"type":"rect","stroke":"#000","strokeWidth":1},"encoding":{"x":{"field":"t0","type":"quantitative","scale":{"domain":[0,2.2],"nice":false,"zero":false},"axis":null},"x2":{"field":"t1"},"fill":{"field":"ph","type":"nominal","scale":{"domain":["R2","R3","D1","D2","D3","D4","D5","D6","R1"],"range":["#ffff99","#ffcc99","#c0c0c0","#ccffcc","#99ccff","#ff99cc","#cc99ff","#c0c0c0","#ffffff"]},"legend":null}}},
  {"data":{"name":"grid"},"transform":[{"filter":"datum.p=='L' && datum.c=='vel'"}],"mark":{"type":"rule","color":"#000","strokeWidth":1},"encoding":{"y":{"field":"v","type":"quantitative","title":null,"scale":{"domain":[0,72],"nice":false,"zero":false},"axis":{"title":null,"labels":false,"domain":false,"grid":false,"values":[0],"tickSize":8,"tickColor":"#000","tickWidth":1}}}},
  {"data":{"name":"curves"},"transform":[{"filter":"datum.p=='L' && datum.c=='vel'"}],"mark":{"type":"line","strokeWidth":1.4},"encoding":{"x":{"field":"t","type":"quantitative"},"y":{"field":"v","type":"quantitative","title":null},"color":{"field":"s","type":"nominal","scale":{"domain":["Legs","Trunk","Arms","Handle"],"range":["#ff0000","#0000ff","#00ff00","#000000"]},"legend":{"orient":"none","legendX":242,"legendY":2,"title":null,"symbolType":"stroke","symbolSize":169,"symbolStrokeWidth":1.5,"labelFontSize":5.5,"labelColor":"#333","clipHeight":7.5,"rowPadding":0,"padding":0,"labelOffset":1}}}},
  {"data":{"values":[{"txt":"Velocity (m/s)"}]},"mark":{"type":"text","align":"left","baseline":"middle","fontSize":6.5,"color":"#333","dx":2,"dy":7},"encoding":{"x":{"datum":0,"type":"quantitative"},"y":{"datum":72,"type":"quantitative"},"text":{"field":"txt"}}}
 ]},
 {"width":274,"height":12,"layer":[
  {"data":{"name":"bands"},"transform":[{"filter":"datum.p=='L'"}],"mark":{"type":"rect","stroke":"#000","strokeWidth":1},"encoding":{"x":{"field":"t0","type":"quantitative","scale":{"domain":[0,2.2],"nice":false,"zero":false},"axis":{"title":null,"values":[0,0.2,0.4,0.6,0.8,1,1.2,1.4,1.6,1.8,2,2.2],"format":".1f","labelFontSize":6,"labelColor":"#444","tickSize":3,"tickColor":"#000","domain":false,"grid":false,"labelFlush":false,"labelOverlap":false,"labelPadding":1}},"x2":{"field":"t1"},"y":{"datum":0,"type":"quantitative","scale":{"domain":[0,1],"nice":false},"axis":{"title":null,"labels":false,"domain":false,"grid":false,"values":[1],"tickSize":8,"tickColor":"#000","tickWidth":1}},"y2":{"datum":1},"fill":{"field":"ph","type":"nominal","scale":{"domain":["R2","R3","D1","D2","D3","D4","D5","D6","R1"],"range":["#ffff99","#ffcc99","#c0c0c0","#ccffcc","#99ccff","#ff99cc","#cc99ff","#c0c0c0","#ffffff"]},"legend":null}}},
  {"data":{"name":"bands"},"transform":[{"filter":"datum.p=='L'"},{"calculate":"(datum.t0+datum.t1)/2","as":"mid"}],"mark":{"type":"text","fontSize":6,"color":"#333","baseline":"middle"},"encoding":{"x":{"field":"mid","type":"quantitative"},"y":{"datum":0.38,"type":"quantitative"},"text":{"field":"ph"}}},
  {"data":{"values":[{"txt":"Time (s)"}]},"mark":{"type":"text","fontSize":6,"color":"#333","baseline":"middle"},"encoding":{"x":{"datum":2.1,"type":"quantitative"},"y":{"datum":0.38,"type":"quantitative"},"text":{"field":"txt"}}}
 ]},
 {"hconcat":[
  {"width":72,"height":60,"data":{"name":"tlab"},"layer":[
   {"mark":{"type":"rect","fill":"#cceeff","stroke":"#000","strokeWidth":1},"encoding":{"y":{"field":"r","type":"nominal","scale":{"domain":["h","time","cyc","dr"],"paddingInner":0,"paddingOuter":0},"axis":null}}},
   {"mark":{"type":"text","align":"left","baseline":"middle","fontSize":6,"fontWeight":"bold","dx":1.5,"lineBreak":"\n","lineHeight":7.5,"color":"#000"},"encoding":{"x":{"value":0},"y":{"field":"r","type":"nominal"},"text":{"field":"txt"}}}
  ]},
  {"width":209,"height":60,"data":{"name":"tbl"},"transform":[{"filter":"datum.p=='L'"}],"layer":[
   {"mark":{"type":"rect","stroke":"#000","strokeWidth":1},"encoding":{"x":{"field":"col","type":"nominal","scale":{"domain":["D1","D2","D3","D4","D5","D6","R1","R2","R3"],"paddingInner":0,"paddingOuter":0},"axis":null},"y":{"field":"r","type":"nominal","scale":{"domain":["h","time","cyc","dr"],"paddingInner":0,"paddingOuter":0},"axis":null},"fill":{"field":"col","type":"nominal","scale":{"domain":["D1","D2","D3","D4","D5","D6","R1","R2","R3"],"range":["#c0c0c0","#ccffcc","#99ccff","#ff99cc","#cc99ff","#c0c0c0","#ffffff","#ffff99","#ffcc99"]},"legend":null}}},
   {"mark":{"type":"text","fontSize":5.5,"fontWeight":"bold","color":"#000","baseline":"middle"},"encoding":{"x":{"field":"col","type":"nominal"},"y":{"field":"r","type":"nominal"},"text":{"field":"txt"}}}
  ]}
 ],"spacing":0,"resolve":{"scale":{"fill":"independent","y":"independent"}}}
],"spacing":0,"resolve":{"scale":{"x":"independent","y":"independent","color":"independent","fill":"independent"},"legend":{"color":"independent"}}},
{"vconcat":[
 {"width":274,"height":73,"layer":[
  {"data":{"name":"bands"},"transform":[{"filter":"datum.p=='R'"}],"mark":{"type":"rect","stroke":"#000","strokeWidth":1},"encoding":{"x":{"field":"t0","type":"quantitative","scale":{"domain":[0,2.4],"nice":false,"zero":false},"axis":null},"x2":{"field":"t1"},"fill":{"field":"ph","type":"nominal","scale":{"domain":["R2","R3","D1","D2","D3","D4","D5","D6","R1"],"range":["#ffff99","#ffcc99","#c0c0c0","#ccffcc","#99ccff","#ff99cc","#cc99ff","#c0c0c0","#ffffff"]},"legend":null}}},
  {"data":{"name":"grid"},"transform":[{"filter":"datum.p=='R' && datum.c=='acc'"}],"mark":{"type":"rule","color":"#000","strokeWidth":1},"encoding":{"y":{"field":"v","type":"quantitative","title":null,"scale":{"domain":[0,73],"nice":false,"zero":false},"axis":{"title":null,"labels":false,"domain":false,"grid":false,"values":[0],"tickSize":6,"tickColor":"#000","tickWidth":1}}}},
  {"data":{"name":"curves"},"transform":[{"filter":"datum.p=='R' && datum.c=='acc'"}],"mark":{"type":"line","strokeWidth":1.4},"encoding":{"x":{"field":"t","type":"quantitative"},"y":{"field":"v","type":"quantitative","title":null},"color":{"field":"s","type":"nominal","scale":{"domain":["Boat","Rower","System"],"range":["#0000ff","#ff0000","#000000"]},"legend":{"orient":"none","legendX":240,"legendY":47,"title":null,"symbolType":"stroke","symbolSize":169,"symbolStrokeWidth":1.5,"labelFontSize":5.5,"labelColor":"#333","clipHeight":8,"rowPadding":0,"padding":0,"labelOffset":1}}}},
  {"data":{"values":[{"txt":"Acceleration (m/s²)"}]},"mark":{"type":"text","align":"left","baseline":"middle","fontSize":6.5,"color":"#333","dx":2,"dy":7},"encoding":{"x":{"datum":0,"type":"quantitative"},"y":{"datum":73,"type":"quantitative"},"text":{"field":"txt"}}}
 ]},
 {"width":274,"height":75,"layer":[
  {"data":{"name":"bands"},"transform":[{"filter":"datum.p=='R'"}],"mark":{"type":"rect","stroke":"#000","strokeWidth":1},"encoding":{"x":{"field":"t0","type":"quantitative","scale":{"domain":[0,2.4],"nice":false,"zero":false},"axis":null},"x2":{"field":"t1"},"fill":{"field":"ph","type":"nominal","scale":{"domain":["R2","R3","D1","D2","D3","D4","D5","D6","R1"],"range":["#ffff99","#ffcc99","#c0c0c0","#ccffcc","#99ccff","#ff99cc","#cc99ff","#c0c0c0","#ffffff"]},"legend":null}}},
  {"data":{"name":"grid"},"transform":[{"filter":"datum.p=='R' && datum.c=='ang'"}],"mark":{"type":"rule","color":"#000","strokeWidth":1},"encoding":{"y":{"field":"v","type":"quantitative","title":null,"scale":{"domain":[0,75],"nice":false,"zero":false},"axis":{"title":null,"labels":false,"domain":false,"grid":false,"values":[0],"tickSize":6,"tickColor":"#000","tickWidth":1}}}},
  {"data":{"name":"curves"},"transform":[{"filter":"datum.p=='R' && datum.c=='ang'"}],"mark":{"type":"line","strokeWidth":1.4},"encoding":{"x":{"field":"t","type":"quantitative"},"y":{"field":"v","type":"quantitative","title":null},"color":{"field":"s","type":"nominal","scale":{"domain":["Vertical Angle","Boat Speed"],"range":["#ff0000","#0000ff"]},"legend":{"orient":"none","legendX":13,"legendY":47.5,"title":null,"symbolType":"stroke","symbolSize":196,"symbolStrokeWidth":1.5,"labelFontSize":6.5,"labelColor":"#333","clipHeight":9,"rowPadding":0,"padding":0,"labelOffset":1}}}}
 ]},
 {"width":274,"height":77,"layer":[
  {"data":{"name":"bands"},"transform":[{"filter":"datum.p=='R'"}],"mark":{"type":"rect","stroke":"#000","strokeWidth":1},"encoding":{"x":{"field":"t0","type":"quantitative","scale":{"domain":[0,2.4],"nice":false,"zero":false},"axis":null},"x2":{"field":"t1"},"fill":{"field":"ph","type":"nominal","scale":{"domain":["R2","R3","D1","D2","D3","D4","D5","D6","R1"],"range":["#ffff99","#ffcc99","#c0c0c0","#ccffcc","#99ccff","#ff99cc","#cc99ff","#c0c0c0","#ffffff"]},"legend":null}}},
  {"data":{"name":"grid"},"transform":[{"filter":"datum.p=='R' && datum.c=='frc'"}],"mark":{"type":"rule","color":"#000","strokeWidth":1},"encoding":{"y":{"field":"v","type":"quantitative","title":null,"scale":{"domain":[0,77],"nice":false,"zero":false},"axis":{"title":null,"labels":false,"domain":false,"grid":false,"values":[0],"tickSize":6,"tickColor":"#000","tickWidth":1}}}},
  {"data":{"name":"curves"},"transform":[{"filter":"datum.p=='R' && datum.c=='frc'"}],"mark":{"type":"line","strokeWidth":1.4,"color":"#ff0000"},"encoding":{"x":{"field":"t","type":"quantitative"},"y":{"field":"v","type":"quantitative","title":null}}},
  {"data":{"values":[{"txt":"Force (N)"}]},"mark":{"type":"text","align":"left","baseline":"middle","fontSize":6.5,"color":"#333","dx":2,"dy":12},"encoding":{"x":{"datum":0,"type":"quantitative"},"y":{"datum":77,"type":"quantitative"},"text":{"field":"txt"}}}
 ]},
 {"width":274,"height":72,"layer":[
  {"data":{"name":"bands"},"transform":[{"filter":"datum.p=='R'"}],"mark":{"type":"rect","stroke":"#000","strokeWidth":1},"encoding":{"x":{"field":"t0","type":"quantitative","scale":{"domain":[0,2.4],"nice":false,"zero":false},"axis":null},"x2":{"field":"t1"},"fill":{"field":"ph","type":"nominal","scale":{"domain":["R2","R3","D1","D2","D3","D4","D5","D6","R1"],"range":["#ffff99","#ffcc99","#c0c0c0","#ccffcc","#99ccff","#ff99cc","#cc99ff","#c0c0c0","#ffffff"]},"legend":null}}},
  {"data":{"name":"grid"},"transform":[{"filter":"datum.p=='R' && datum.c=='vel'"}],"mark":{"type":"rule","color":"#000","strokeWidth":1},"encoding":{"y":{"field":"v","type":"quantitative","title":null,"scale":{"domain":[0,72],"nice":false,"zero":false},"axis":{"title":null,"labels":false,"domain":false,"grid":false,"values":[0],"tickSize":6,"tickColor":"#000","tickWidth":1}}}},
  {"data":{"name":"curves"},"transform":[{"filter":"datum.p=='R' && datum.c=='vel'"}],"mark":{"type":"line","strokeWidth":1.4},"encoding":{"x":{"field":"t","type":"quantitative"},"y":{"field":"v","type":"quantitative","title":null},"color":{"field":"s","type":"nominal","scale":{"domain":["Legs","Trunk","Arms","Handle"],"range":["#ff0000","#0000ff","#00ff00","#000000"]},"legend":{"orient":"none","legendX":243,"legendY":2,"title":null,"symbolType":"stroke","symbolSize":169,"symbolStrokeWidth":1.5,"labelFontSize":5.5,"labelColor":"#333","clipHeight":7.5,"rowPadding":0,"padding":0,"labelOffset":1}}}},
  {"data":{"values":[{"txt":"Velocity (m/s)"}]},"mark":{"type":"text","align":"left","baseline":"middle","fontSize":6.5,"color":"#333","dx":2,"dy":7},"encoding":{"x":{"datum":0,"type":"quantitative"},"y":{"datum":72,"type":"quantitative"},"text":{"field":"txt"}}}
 ]},
 {"width":274,"height":12,"layer":[
  {"data":{"name":"bands"},"transform":[{"filter":"datum.p=='R'"}],"mark":{"type":"rect","stroke":"#000","strokeWidth":1},"encoding":{"x":{"field":"t0","type":"quantitative","scale":{"domain":[0,2.4],"nice":false,"zero":false},"axis":{"title":null,"values":[0,0.2,0.4,0.6,0.8,1,1.2,1.4,1.6,1.8,2,2.2,2.4],"format":".1f","labelFontSize":6,"labelColor":"#444","tickSize":3,"tickColor":"#000","domain":false,"grid":false,"labelFlush":false,"labelOverlap":false,"labelPadding":1}},"x2":{"field":"t1"},"y":{"datum":0,"type":"quantitative","scale":{"domain":[0,1],"nice":false},"axis":{"title":null,"labels":false,"domain":false,"grid":false,"values":[1],"tickSize":6,"tickColor":"#000","tickWidth":1}},"y2":{"datum":1},"fill":{"field":"ph","type":"nominal","scale":{"domain":["R2","R3","D1","D2","D3","D4","D5","D6","R1"],"range":["#ffff99","#ffcc99","#c0c0c0","#ccffcc","#99ccff","#ff99cc","#cc99ff","#c0c0c0","#ffffff"]},"legend":null}}},
  {"data":{"name":"bands"},"transform":[{"filter":"datum.p=='R' && datum.ph!='D2' && datum.ph!='D3'"},{"calculate":"(datum.t0+datum.t1)/2","as":"mid"}],"mark":{"type":"text","fontSize":5.5,"color":"#333","baseline":"middle"},"encoding":{"x":{"field":"mid","type":"quantitative"},"y":{"datum":0.38,"type":"quantitative"},"text":{"field":"ph"}}},
  {"data":{"name":"bands"},"transform":[{"filter":"datum.p=='R' && datum.ph=='D2'"}],"mark":{"type":"text","fontSize":5.5,"color":"#333","baseline":"middle","align":"right"},"encoding":{"x":{"field":"t1","type":"quantitative"},"y":{"datum":0.38,"type":"quantitative"},"text":{"field":"ph"}}},
  {"data":{"name":"bands"},"transform":[{"filter":"datum.p=='R' && datum.ph=='D3'"}],"mark":{"type":"text","fontSize":5.5,"color":"#333","baseline":"middle","align":"left"},"encoding":{"x":{"field":"t0","type":"quantitative"},"y":{"datum":0.38,"type":"quantitative"},"text":{"field":"ph"}}},
  {"data":{"values":[{"txt":"Time (s)"}]},"mark":{"type":"text","fontSize":6,"color":"#333","baseline":"middle"},"encoding":{"x":{"datum":2.28,"type":"quantitative"},"y":{"datum":0.38,"type":"quantitative"},"text":{"field":"txt"}}}
 ]},
 {"hconcat":[
  {"width":73,"height":60,"data":{"name":"tlab"},"layer":[
   {"mark":{"type":"rect","fill":"#cceeff","stroke":"#000","strokeWidth":1},"encoding":{"y":{"field":"r","type":"nominal","scale":{"domain":["h","time","cyc","dr"],"paddingInner":0,"paddingOuter":0},"axis":null}}},
   {"mark":{"type":"text","align":"left","baseline":"middle","fontSize":6,"fontWeight":"bold","dx":1.5,"lineBreak":"\n","lineHeight":7.5,"color":"#000"},"encoding":{"x":{"value":0},"y":{"field":"r","type":"nominal"},"text":{"field":"txt"}}}
  ]},
  {"width":210,"height":60,"data":{"name":"tbl"},"transform":[{"filter":"datum.p=='R'"}],"layer":[
   {"mark":{"type":"rect","stroke":"#000","strokeWidth":1},"encoding":{"x":{"field":"col","type":"nominal","scale":{"domain":["D1","D2","D3","D4","D5","D6","R1","R2","R3"],"paddingInner":0,"paddingOuter":0},"axis":null},"y":{"field":"r","type":"nominal","scale":{"domain":["h","time","cyc","dr"],"paddingInner":0,"paddingOuter":0},"axis":null},"fill":{"field":"col","type":"nominal","scale":{"domain":["D1","D2","D3","D4","D5","D6","R1","R2","R3"],"range":["#c0c0c0","#ccffcc","#99ccff","#ff99cc","#cc99ff","#c0c0c0","#ffffff","#ffff99","#ffcc99"]},"legend":null}}},
   {"mark":{"type":"text","fontSize":5.5,"fontWeight":"bold","color":"#000","baseline":"middle"},"encoding":{"x":{"field":"col","type":"nominal"},"y":{"field":"r","type":"nominal"},"text":{"field":"txt"}}}
  ]}
 ],"spacing":0,"resolve":{"scale":{"fill":"independent","y":"independent"}}}
],"spacing":0,"resolve":{"scale":{"x":"independent","y":"independent","color":"independent","fill":"independent"},"legend":{"color":"independent"}}}
],
"spacing":12,
"resolve":{"scale":{"x":"independent","y":"independent","color":"independent","fill":"independent"},"legend":{"color":"independent"}}
}
